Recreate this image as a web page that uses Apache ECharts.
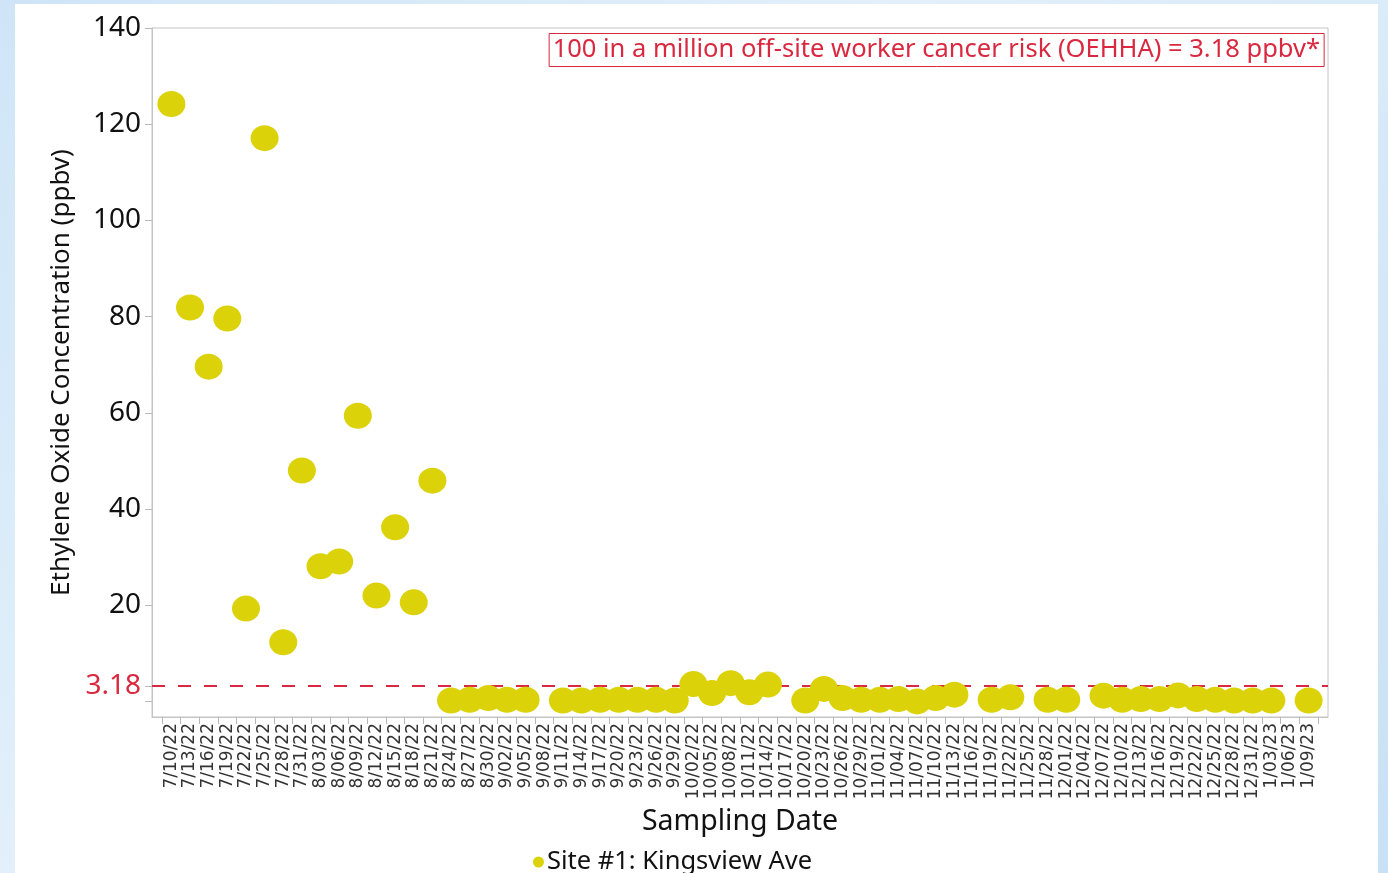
<!DOCTYPE html>
<html>
<head>
<meta charset="utf-8">
<script src="https://cdn.jsdelivr.net/npm/echarts@6/dist/echarts.min.js"></script>
<style>
  html, body { margin: 0; padding: 0; width: 1388px; height: 873px; overflow: hidden; }
  body { background: linear-gradient(135deg, #cfe5f7 0%, #e3f0fb 40%, #c9e1f5 100%); }
  #chart { width: 1388px; height: 873px; }
</style>
</head>
<body>
<div id="chart"></div>
<script>
// Sampling dates (every third day)
const dates = [
  '7/10/22','7/13/22','7/16/22','7/19/22','7/22/22','7/25/22','7/28/22','7/31/22',
  '8/03/22','8/06/22','8/09/22','8/12/22','8/15/22','8/18/22','8/21/22','8/24/22',
  '8/27/22','8/30/22','9/02/22','9/05/22','9/08/22','9/11/22','9/14/22','9/17/22',
  '9/20/22','9/23/22','9/26/22','9/29/22','10/02/22','10/05/22','10/08/22','10/11/22',
  '10/14/22','10/17/22','10/20/22','10/23/22','10/26/22','10/29/22','11/01/22','11/04/22',
  '11/07/22','11/10/22','11/13/22','11/16/22','11/19/22','11/22/22','11/25/22','11/28/22',
  '12/01/22','12/04/22','12/07/22','12/10/22','12/13/22','12/16/22','12/19/22','12/22/22',
  '12/25/22','12/28/22','12/31/22','1/03/23','1/06/23','1/09/23'
];

// Ethylene oxide concentration (ppbv), Site #1; null = no sample
const site1 = [
  124.2, 81.9, 69.6, 79.6, 19.3, 117.1, 12.3, 48.0,
  28.1, 29.1, 59.4, 22.0, 36.2, 20.6, 45.9, 0.2,
  0.35, 0.7, 0.35, 0.35, null, 0.2, 0.2, 0.35,
  0.35, 0.35, 0.35, 0.2, 3.6, 1.75, 3.8, 1.9,
  3.5, null, 0.2, 2.6, 0.7, 0.35, 0.35, 0.5,
  0.0, 0.7, 1.4, null, 0.35, 0.85, null, 0.35,
  0.35, null, 1.2, 0.35, 0.5, 0.5, 1.25, 0.5,
  0.35, 0.2, 0.2, 0.2, null, 0.2
];

// Cancer-risk threshold
const riskLevel = 3.18;
const riskNote = '100 in a million off-site worker cancer risk (OEHHA) = 3.18 ppbv*';

// Y axis ticks / labels
const yTicks = [0, 3.18, 20, 40, 60, 80, 100, 120, 140];
const yLabels = [3.18, 20, 40, 60, 80, 100, 120, 140];

const seriesName = 'Site #1: Kingsview Ave';

const RED = '#d9283f';
const YELLOW = '#dbd20a';
const FONT = 'Noto Sans';

const points = [];
site1.forEach((v, i) => { if (v !== null) points.push([i, v]); });

const catIdx = dates.map((d, i) => i);
const catEdges = dates.map((d, i) => i - 0.5).concat([dates.length - 0.5]);

const chart = echarts.init(document.getElementById('chart'), null, { renderer: 'canvas' });
chart.setOption({
  animation: false,
  backgroundColor: 'transparent',
  graphic: [{
    type: 'rect', z: -10, silent: true,
    shape: { x: 15, y: 4, width: 1363, height: 869 },
    style: { fill: '#ffffff' }
  }],
  title: {
    text: riskNote,
    right: 64, top: 33,
    padding: [2, 4, 2, 4],
    borderColor: RED, borderWidth: 1,
    textStyle: { color: RED, fontFamily: FONT, fontSize: 25.5, fontWeight: 'normal', lineHeight: 30 }
  },
  legend: {
    data: [seriesName],
    left: 528, top: 844,
    icon: 'circle', itemWidth: 11, itemHeight: 11, itemGap: 0,
    textStyle: { color: '#111', fontFamily: FONT, fontSize: 25.5, padding: [0, 0, 0, -2] }
  },
  grid: {
    left: 152, right: 60, top: 28, bottom: 156,
    show: true, borderColor: '#c4c4c4', borderWidth: 1, backgroundColor: '#fff'
  },
  xAxis: {
    type: 'value',
    min: -1.04, max: 62.04,
    name: 'Sampling Date', nameLocation: 'middle', nameGap: 88,
    nameTextStyle: { color: '#111', fontFamily: FONT, fontSize: 28.5 },
    axisLine: { show: true, onZero: false, lineStyle: { color: '#c4c4c4' } },
    axisTick: { show: true, customValues: catEdges, length: 7, lineStyle: { color: '#b8b8b8' } },
    axisLabel: {
      customValues: catIdx, interval: 0, rotate: 90, margin: 6,
      formatter: v => dates[Math.round(v)] || '',
      color: '#333', fontFamily: 'DejaVu Sans', fontSize: 17
    },
    splitLine: { show: false }
  },
  yAxis: {
    type: 'value',
    min: -3.24, max: 140,
    name: 'Ethylene Oxide Concentration (ppbv)', nameLocation: 'middle', nameGap: 76,
    nameTextStyle: { color: '#111', fontFamily: FONT, fontSize: 26 },
    axisLine: { show: true, onZero: false, lineStyle: { color: '#c4c4c4' } },
    axisTick: { show: true, customValues: yTicks, length: 7, lineStyle: { color: '#b8b8b8' } },
    axisLabel: {
      customValues: yLabels, margin: 11,
      formatter: v => (v === riskLevel ? '3.18' : String(v)),
      color: v => (Number(v) === riskLevel ? RED : '#111'),
      fontFamily: FONT, fontSize: 28
    },
    splitLine: { show: false }
  },
  series: [{
    name: seriesName,
    type: 'scatter',
    z: 3,
    symbol: 'circle',
    symbolSize: [28, 26],
    itemStyle: { color: YELLOW, opacity: 1 },
    data: points,
    markLine: {
      z: 1,
      silent: true,
      symbol: ['none', 'none'],
      label: { show: false },
      lineStyle: { color: RED, type: [13, 13], width: 2 },
      data: [{ yAxis: riskLevel }]
    }
  }]
});
</script>
</body>
</html>
